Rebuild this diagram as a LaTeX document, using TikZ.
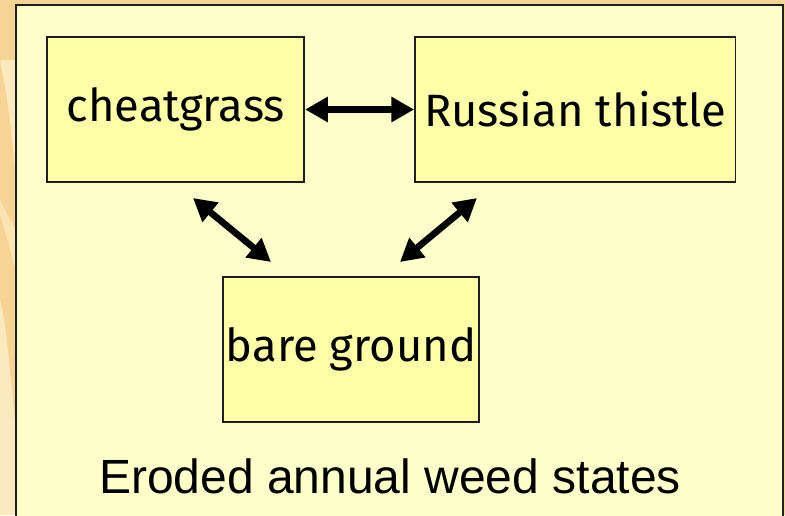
\documentclass[tikz,border=0pt]{standalone}
\usepackage{fontspec}
\setmainfont{Liberation Sans}
\newfontfamily\boxfont{Fira Sans}
\usetikzlibrary{arrows.meta}
\definecolor{bgorange}{RGB}{247,212,150}
\definecolor{bglight}{RGB}{253,233,190}
\definecolor{panel}{RGB}{255,255,204}
\definecolor{statefill}{RGB}{255,255,170}
\definecolor{edge}{RGB}{30,30,30}
\tikzset{
  statebox/.style={draw=edge, line width=1.3pt, fill=statefill, rectangle,
    minimum height=108.75pt, inner sep=0pt, font=\boxfont\fontsize{34}{40}\selectfont},
  trans/.style={line width=5pt, {Triangle[length=17pt,width=18pt]}-{Triangle[length=17pt,width=18pt]}}
}
\begin{document}
\begin{tikzpicture}[x=0.75pt,y=-0.75pt]
  \useasboundingbox (0,0) rectangle (785,515);
  % slide background
  \fill[bgorange] (0,0) rectangle (785,515);
  \fill[bglight] (0,60) .. controls (10,110) and (14,150) .. (16,190) -- (16,60) -- cycle;
  \fill[bglight] (0,300) .. controls (8,330) and (12,400) .. (16,430) -- (16,515) -- (0,515) -- cycle;
  \fill[bglight!70!bgorange] (0,215) .. controls (8,240) and (12,260) .. (16,270) -- (16,230) .. controls (10,220) and (5,210) .. (0,200) -- cycle;
  % panel
  \draw[draw=edge, line width=1.5pt, fill=panel] (16,5) rectangle (783,530);
  % states
  \node[statebox, minimum width=192.75pt] (cheat) at (175.75,109.5) {cheatgrass};
  \node[statebox, minimum width=240.4pt] (thistle) at (575.25,109.5) {Russian thistle};
  \node[statebox, minimum width=192pt] (bare) at (351,349.5) {bare ground};
  % transitions
  \coordinate (c1) at (193,198);
  \coordinate (b1) at (271,262);
  \coordinate (t1) at (477,198);
  \coordinate (b2) at (400,262);
  \draw[trans] (cheat.east) -- (thistle.west);
  \draw[trans] (c1) -- (b1);
  \draw[trans] (t1) -- (b2);
  % caption
  \node[font=\fontsize{36}{40}\selectfont, anchor=base] (caption) at (390,493) {Eroded annual weed states};
\end{tikzpicture}
\end{document}
